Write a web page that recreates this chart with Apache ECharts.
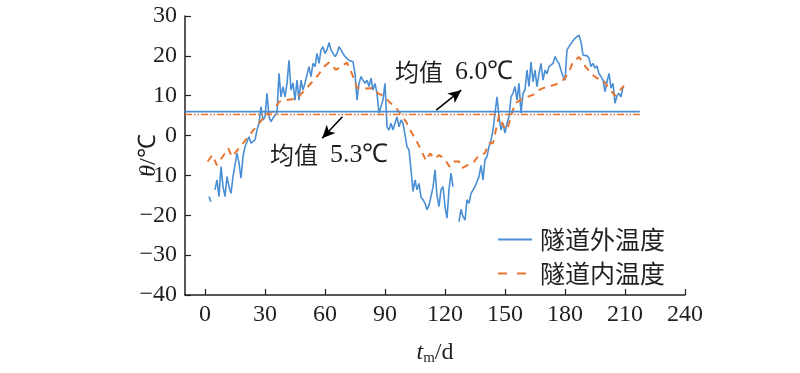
<!DOCTYPE html>
<html><head><meta charset="utf-8">
<script src="https://cdn.jsdelivr.net/npm/echarts@6/dist/echarts.min.js"></script>
<style>html,body{margin:0;padding:0;background:#fff}#c{width:800px;height:373px}</style>
</head><body><div id="c"></div>
<script>
// ---- data ----
const outsideStartDay = 2;
const outsideTemp = [
  -15.3,-16.6,null,-13.6,-11.1,-15.3,-7.8,-12.8,-15.3,-10.3,          // 2-11
  -12.8,-14.5,-10.3,-10.3,-4.4,-6.9,-10.7,-5.3,-2.8,-2.4,             // 12-21
  -0.3,-1.9,-2.4,-1.1,1.4,3.1,7.2,3.9,4.7,10.6,                       // 22-31
  4.7,3.5,4.4,3.9,5.7,15.6,9.7,12.3,9.7,13.1,                         // 32-41
  18.9,11.4,13.2,8.9,13.9,8.9,13.9,11.4,13.2,13.2,                    // 42-51
  17.3,14.8,18.1,17.3,20.6,18.1,21.5,22.3,20.6,21.5,                  // 52-61
  23.3,21.5,21.5,19.8,20.6,22.3,21.5,20.6,19.8,20.2,                  // 62-71
  18.9,19.4,18.5,15.6,8.9,13.1,14.8,13.9,13.1,13.9,                   // 72-81
  12.3,14.4,11.4,13.1,10.6,5.6,5.6,9.0,13.1,2.2,                      // 82-91
  1.4,3.1,1.4,3.1,4.7,2.2,3.9,3.1,3.5,-2.8,                           // 92-101
  -3.6,-8.6,-14.0,-11.1,-13.6,-12.0,-15.5,-16.1,-17.0,-18.6,          // 102-111
  -17.5,-17.0,-13.0,-8.6,-15.0,-17.8,-13.6,-12.8,-17.8,-20.7,         // 112-121
  -13.6,-9.4,-12.8,null,null,-21.6,-18.5,-20.3,-21.2,-16.1,           // 122-131
  -17.0,-14.5,-14.0,-12.8,-12.5,-10.3,-7.5,-11.1,-6.0,-5.3,           // 132-141
  -2.8,-1.1,1.4,5.6,9.7,4.7,1.4,3.1,0.6,3.1,                          // 142-151
  4.7,9.7,10.6,12.3,8.9,13.1,5.6,10.6,11.5,16.4,                      // 152-161
  12.3,18.5,13.5,16.4,12.3,15.6,18.1,13.9,16.4,15.5,                  // 162-171
  17.3,16.8,18.1,19.8,18.8,18.1,16.4,14.8,13.9,21.5,                  // 172-181
  22.3,23.1,23.5,24.4,24.0,25.2,23.5,20.2,19.8,20.0,                  // 182-191
  19.4,17.3,18.1,16.9,17.5,15.5,14.8,13.9,11.0,13.5,                  // 192-201
  15.6,11.9,13.1,8.1,10.0,10.6,9.7,12.3                               // 202-209
];
const insideDays = [1.3,3.7,5.9,11.7,13.4,17.6,31,34,37,41,46,51,56,60,62,65.5,68,71,73.5,76,78,84,86.5,89.5,92,95.5,98,100.5,103,105.5,108,110.5,112.5,115,117,119.5,122.3,124,127,128.5,131,134,137,140,142,144,147,149,151,155,158,161,164,167,169,172,177,180,182,184,187,190,193,196,199,201,205,209.5];
const insideTemp = [-6.5,-4.9,-7.4,-3.2,-5.3,-2.8,5.6,6.0,8.5,8.9,9.3,12.0,14.8,17.5,18.3,16.5,17.3,18.3,15.5,12.0,11.8,11.9,10.6,9.9,8.5,7.0,5.2,3.5,1.0,-1.1,-3.6,-6.3,-4.5,-5.8,-4.9,-5.7,-7.8,-6.5,-6.5,-8.2,-7.5,-6.9,-4.9,-4.4,-1.9,-1.9,5.0,2.5,1.4,8.1,9.0,9.7,10.2,11.4,11.9,12.3,13.1,14.4,16.0,18.5,19.7,17.5,15.5,14.4,14.0,12.5,10.0,12.5];
const meanOutside = 6.0;
const meanInside = 5.3;
const meanSpan = [-10, 217.4];
const xTicks = [0,30,60,90,120,150,180,210,240];
const seriesNames = ['隧道外温度','隧道内温度'];

// ---- build ----
const outsideData = outsideTemp.map((v,i)=>[outsideStartDay+i, v]);
const insideData = insideDays.map((d,i)=>[d, insideTemp[i]]);
const BLUE = '#4a8fd6', ORANGE = '#e8752f', INK = '#231f20';
const SERIF = '"Liberation Serif","Times New Roman",serif';
const CJK = '"Noto Sans CJK SC",sans-serif';
const minus = v => String(v).replace('-', '\u2212');

const chart = echarts.init(document.getElementById('c'), null, {renderer:'canvas'});
chart.setOption({
  animation: false,
  backgroundColor: '#fff',
  grid: {left:185, right:115, top:16, bottom:78},
  xAxis: {
    type:'value', min:-10, max:240,
    axisLine:{show:true, onZero:false, lineStyle:{color:INK, width:1.5}},
    axisTick:{show:true, inside:true, length:6, customValues:xTicks, lineStyle:{color:INK, width:1.2}},
    axisLabel:{customValues:xTicks, color:INK, fontFamily:SERIF, fontSize:24, margin:8},
    splitLine:{show:false},
    name:'{i|t}{s|m}{n|/d}', nameLocation:'middle', nameGap:44, nameMoveOverlap:false,
    nameTextStyle:{color:INK, rich:{
      i:{fontStyle:'italic', fontFamily:SERIF, fontSize:24, color:INK},
      s:{fontFamily:SERIF, fontSize:15, color:INK, padding:[12,0,0,0]},
      n:{fontFamily:SERIF, fontSize:24, color:INK}
    }}
  },
  yAxis: {
    type:'value', min:-40, max:30, interval:10,
    axisLine:{show:true, onZero:false, lineStyle:{color:INK, width:1.5}},
    axisTick:{show:true, inside:true, length:6, lineStyle:{color:INK, width:1.2}},
    axisLabel:{color:INK, fontFamily:SERIF, fontSize:24, margin:8, formatter:minus},
    splitLine:{show:false},
    name:'{i|θ}{n|/℃}', nameLocation:'middle', nameGap:24, nameRotate:90, nameMoveOverlap:false,
    nameTextStyle:{color:INK, rich:{
      i:{fontStyle:'italic', fontFamily:SERIF, fontSize:24, color:INK},
      n:{fontFamily:SERIF, fontSize:24, color:INK}
    }}
  },
  legend: {
    orient:'vertical', left:492, top:222, itemWidth:34, itemHeight:20, itemGap:9,
    itemStyle:{opacity:0},
    textStyle:{fontFamily:CJK, fontSize:25, color:INK, padding:[0,0,0,3]},
    data: [seriesNames[0], {name:seriesNames[1], lineStyle:{type:[9,10]}}]
  },
  series: [
    {name:seriesNames[0], type:'line', data:outsideData, showSymbol:false, symbol:'none', connectNulls:false,
     lineStyle:{color:BLUE, width:1.6}, itemStyle:{color:BLUE}, z:3},
    {name:seriesNames[1], type:'line', data:insideData, showSymbol:false, symbol:'none',
     lineStyle:{color:ORANGE, width:2, type:[7,6]}, itemStyle:{color:ORANGE}, z:4},
    {name:'meanOut', type:'line', data:[[meanSpan[0],meanOutside],[meanSpan[1],meanOutside]], symbol:'none',
     lineStyle:{color:BLUE, width:1.6}, z:5, silent:true},
    {name:'meanIn', type:'line', data:[[meanSpan[0],meanInside],[meanSpan[1],meanInside]], symbol:'none',
     lineStyle:{color:ORANGE, width:1.6, type:[7,2,1.5,2,1.5,2]}, z:5, silent:true,
     markLine:{silent:true, symbol:['none','arrow'], symbolSize:[9,13], animation:false,
       lineStyle:{color:'#000', width:1.5, type:'solid'}, label:{show:false},
       data:[
         [{coord:[115.6,6.4]},{coord:[128.1,11.4]}],
         [{coord:[68.7,4.7]},{coord:[58.6,-0.7]}]
       ]}
    }
  ],
  graphic: [
    {type:'text', left:395, top:59, style:{text:'{c|均值}{n|6.0℃}', rich:{
      c:{fontFamily:CJK, fontSize:24, fill:INK, padding:[0,12,0,0]}, n:{fontFamily:SERIF, fontSize:26, fill:INK}}}},
    {type:'text', left:270, top:142, style:{text:'{c|均值}{n|5.3℃}', rich:{
      c:{fontFamily:CJK, fontSize:24, fill:INK, padding:[0,12,0,0]}, n:{fontFamily:SERIF, fontSize:26, fill:INK}}}}
  ]
});
</script></body></html>
